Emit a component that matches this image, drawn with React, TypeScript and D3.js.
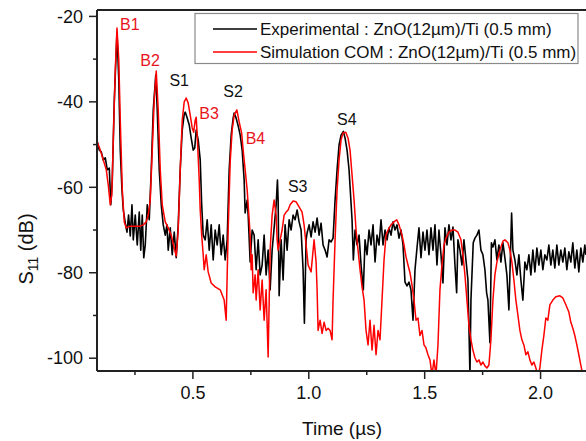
import React from "react";
import * as d3 from "d3";

// Experimental S11 (black)
const expTime = [0.0875,0.0961,0.1047,0.1134,0.1220,0.1306,0.1392,0.1457,0.1522,0.1608,0.1724,0.1802,0.1866,0.1940,0.1996,0.2082,0.2155,0.2224,0.2297,0.2371,0.2427,0.2513,0.2599,0.2685,0.2750,0.2815,0.2879,0.2944,0.3030,0.3116,0.3203,0.3289,0.3397,0.3461,0.3547,0.3634,0.3720,0.3806,0.3879,0.3935,0.4022,0.4108,0.4194,0.4280,0.4366,0.4453,0.4539,0.4625,0.4668,0.4754,0.4841,0.4927,0.5013,0.5078,0.5142,0.5228,0.5315,0.5379,0.5444,0.5530,0.5616,0.5703,0.5789,0.5875,0.5961,0.6047,0.6134,0.6220,0.6306,0.6392,0.6478,0.6565,0.6651,0.6737,0.6780,0.6866,0.6966,0.7040,0.7125,0.7211,0.7254,0.7341,0.7384,0.7470,0.7556,0.7642,0.7728,0.7815,0.7901,0.7987,0.8073,0.8159,0.8246,0.8332,0.8418,0.8504,0.8591,0.8647,0.8677,0.8720,0.8806,0.8892,0.8978,0.9065,0.9151,0.9237,0.9323,0.9409,0.9496,0.9582,0.9668,0.9754,0.9810,0.9884,0.9927,1.0013,1.0099,1.0185,1.0272,1.0358,1.0444,1.0530,1.0616,1.0703,1.0789,1.0875,1.0961,1.1047,1.1134,1.1220,1.1306,1.1392,1.1491,1.1565,1.1651,1.1737,1.1802,1.1866,1.1922,1.1996,1.2082,1.2168,1.2254,1.2353,1.2427,1.2513,1.2599,1.2685,1.2772,1.2858,1.2944,1.3030,1.3116,1.3203,1.3289,1.3375,1.3461,1.3547,1.3634,1.3720,1.3806,1.3892,1.3978,1.4065,1.4151,1.4237,1.4323,1.4409,1.4496,1.4582,1.4668,1.4754,1.4841,1.4927,1.5013,1.5099,1.5185,1.5272,1.5358,1.5444,1.5530,1.5616,1.5703,1.5789,1.5875,1.5961,1.6047,1.6134,1.6220,1.6306,1.6379,1.6435,1.6522,1.6608,1.6694,1.6780,1.6866,1.6953,1.6996,1.7095,1.7168,1.7254,1.7341,1.7427,1.7513,1.7599,1.7672,1.7728,1.7815,1.7879,1.7944,1.8030,1.8116,1.8203,1.8289,1.8375,1.8461,1.8547,1.8634,1.8750,1.8806,1.8892,1.8978,1.9065,1.9151,1.9237,1.9323,1.9409,1.9496,1.9582,1.9668,1.9754,1.9841,1.9927,2.0013,2.0099,2.0185,2.0272,2.0358,2.0444,2.0530,2.0616,2.0703,2.0789,2.0875,2.0961,2.1047,2.1134,2.1220,2.1306,2.1392,2.1478,2.1565,2.1651,2.1737,2.1823,2.1909,2.1953];
const expS11 = [-49.4,-51.3,-51.7,-53.6,-53.1,-55.9,-55.5,-64.1,-58.3,-39.6,-23.7,-34.9,-51.3,-60.6,-65.3,-68.4,-70.5,-66.5,-71.4,-64.1,-72.3,-66.5,-73.5,-65.8,-74.7,-66.5,-76.5,-73.5,-64.1,-67.6,-55.9,-41.9,-33.7,-41.9,-55.9,-64.1,-68.8,-71.2,-68.8,-74.7,-69.5,-75.8,-70.5,-76.5,-68.8,-55.9,-46.6,-42.9,-42.4,-43.8,-45.4,-48.5,-51.3,-50.8,-46.6,-48.9,-53.6,-64.1,-71.2,-72.3,-67.6,-74.7,-68.8,-77.0,-70.0,-73.5,-68.8,-75.8,-71.2,-77.0,-72.3,-55.9,-47.8,-43.8,-42.6,-43.8,-45.9,-47.8,-51.3,-58.3,-66.0,-63.0,-66.5,-77.5,-70.0,-71.2,-79.3,-72.3,-80.5,-78.2,-71.2,-80.5,-74.7,-84.0,-74.7,-69.5,-64.1,-58.3,-63.0,-85.4,-72.3,-81.7,-68.8,-74.7,-67.6,-70.0,-66.5,-67.6,-65.3,-68.1,-70.0,-79.3,-91.8,-72.3,-70.7,-68.8,-71.6,-68.1,-70.5,-67.2,-71.2,-68.4,-73.5,-74.7,-76.3,-72.3,-72.8,-71.9,-63.0,-55.9,-50.1,-47.8,-46.9,-48.5,-51.3,-55.9,-61.8,-67.6,-77.0,-70.0,-73.5,-71.2,-78.2,-84.0,-72.3,-75.8,-70.0,-73.5,-68.8,-77.5,-71.2,-73.5,-67.6,-73.5,-70.0,-72.3,-69.5,-71.2,-68.1,-70.0,-68.8,-71.9,-70.0,-73.5,-82.2,-83.1,-82.2,-84.0,-91.1,-79.3,-74.2,-69.5,-76.5,-70.5,-74.7,-70.0,-75.8,-69.5,-74.7,-68.8,-78.2,-70.0,-75.8,-82.4,-69.5,-73.5,-68.8,-72.3,-69.3,-78.2,-84.7,-72.3,-74.7,-78.2,-72.3,-77.0,-81.7,-104,-86.4,-73.0,-71.9,-71.2,-70.0,-74.7,-75.8,-79.3,-84.7,-86.4,-96.4,-73.0,-74.0,-72.3,-77.0,-73.5,-77.5,-73.0,-76.5,-80.5,-88.7,-66.0,-74.7,-77.0,-80.5,-75.8,-81.7,-86.4,-77.5,-79.3,-75.8,-80.5,-74.7,-79.8,-74.2,-78.2,-74.7,-79.3,-75.8,-77.0,-73.5,-78.2,-74.7,-78.9,-73.5,-78.2,-74.7,-77.5,-74.2,-79.3,-75.1,-77.5,-73.0,-78.9,-74.7,-79.8,-74.2,-77.5,-73.5,-75.8];

// Simulation COM S11 (red)
const simTime = [0.0875,0.1004,0.1134,0.1263,0.1349,0.1435,0.1500,0.1565,0.1651,0.1724,0.1802,0.1866,0.1953,0.2039,0.2125,0.2297,0.2513,0.2728,0.2858,0.2987,0.3073,0.3159,0.3246,0.3332,0.3418,0.3504,0.3591,0.3677,0.3806,0.3935,0.4065,0.4194,0.4280,0.4366,0.4453,0.4539,0.4625,0.4711,0.4797,0.4884,0.4970,0.5034,0.5099,0.5142,0.5185,0.5272,0.5315,0.5379,0.5444,0.5487,0.5573,0.5659,0.5789,0.5961,0.6177,0.6349,0.6435,0.6522,0.6608,0.6694,0.6780,0.6897,0.6996,0.7103,0.7168,0.7254,0.7341,0.7427,0.7470,0.7513,0.7556,0.7599,0.7685,0.7728,0.7815,0.7901,0.7987,0.8073,0.8159,0.8246,0.8332,0.8418,0.8504,0.8591,0.8634,0.8677,0.8763,0.8849,0.8935,0.9022,0.9108,0.9194,0.9323,0.9453,0.9582,0.9711,0.9797,0.9884,0.9970,1.0099,1.0228,1.0315,1.0358,1.0401,1.0487,1.0573,1.0659,1.0746,1.0832,1.0918,1.1004,1.1047,1.1134,1.1220,1.1306,1.1392,1.1478,1.1595,1.1694,1.1780,1.1866,1.1953,1.2039,1.2125,1.2211,1.2297,1.2384,1.2470,1.2556,1.2642,1.2728,1.2815,1.2901,1.2987,1.3073,1.3159,1.3246,1.3332,1.3418,1.3547,1.3677,1.3793,1.3892,1.4022,1.4108,1.4194,1.4280,1.4366,1.4453,1.4539,1.4625,1.4711,1.4797,1.4884,1.4970,1.5056,1.5142,1.5228,1.5315,1.5401,1.5487,1.5573,1.5659,1.5746,1.5832,1.5918,1.6047,1.6177,1.6306,1.6435,1.6565,1.6651,1.6737,1.6823,1.6909,1.6996,1.7082,1.7168,1.7254,1.7341,1.7427,1.7513,1.7599,1.7685,1.7772,1.7858,1.7944,1.8030,1.8116,1.8246,1.8375,1.8461,1.8591,1.8677,1.8763,1.8849,1.8935,1.9022,1.9108,1.9194,1.9280,1.9366,1.9453,1.9539,1.9625,1.9711,1.9797,1.9884,1.9970,2.0056,2.0142,2.0228,2.0315,2.0401,2.0530,2.0659,2.0832,2.0961,2.1091,2.1220,2.1306,2.1392,2.1478,2.1565,2.1651,2.1737,2.1823,2.1953];
const simS11 = [-49.4,-51.3,-53.6,-55.9,-59.5,-64.1,-61.8,-48.9,-32.6,-22.7,-30.2,-44.3,-60.6,-68.1,-69.5,-69.1,-69.1,-69.1,-68.8,-68.1,-66.5,-63.0,-51.3,-39.6,-32.8,-41.9,-55.9,-64.1,-68.1,-69.5,-71.2,-74.2,-76.1,-70.0,-55.9,-44.3,-40.0,-39.1,-40.3,-43.1,-46.1,-47.1,-44.3,-43.6,-47.8,-58.3,-65.3,-71.2,-75.8,-79.3,-75.8,-79.8,-82.4,-83.3,-84.0,-86.4,-91.1,-70.0,-54.1,-46.6,-43.1,-41.9,-44.7,-47.3,-51.3,-55.9,-60.6,-67.6,-71.2,-79.3,-75.8,-84.7,-80.5,-86.4,-79.3,-88.7,-81.7,-91.1,-84.0,-99.7,-74.7,-66.5,-63.0,-66.5,-72.3,-74.7,-72.3,-70.0,-66.5,-65.8,-65.3,-64.1,-63.2,-63.4,-64.6,-65.8,-68.8,-73.5,-78.2,-79.8,-72.3,-77.5,-84.0,-93.5,-91.1,-94.2,-91.6,-93.5,-93.0,-93.5,-95.7,-86.4,-72.3,-60.6,-53.6,-48.9,-47.3,-47.1,-48.5,-51.3,-57.1,-63.0,-70.0,-74.7,-79.3,-83.3,-86.4,-93.5,-96.9,-91.1,-98.1,-92.3,-99.2,-93.5,-95.7,-86.4,-77.0,-71.2,-70.0,-68.8,-68.1,-67.6,-68.8,-71.2,-73.5,-76.3,-78.2,-80.0,-82.9,-86.4,-91.1,-90.6,-94.7,-93.5,-96.9,-97.6,-99.2,-100.4,-104,-100.4,-104,-96.9,-84.0,-78.2,-73.5,-71.9,-70.5,-70.0,-70.0,-70.5,-72.3,-75.8,-80.5,-86.4,-92.3,-95.7,-98.1,-99.9,-100.9,-100.4,-101.6,-100.9,-101.8,-102.3,-101.6,-95.7,-86.4,-80.5,-77.5,-74.7,-72.6,-72.3,-73.0,-74.7,-77.5,-81.7,-86.4,-89.9,-93.5,-95.7,-96.9,-99.2,-98.5,-100.4,-101.6,-100.9,-102.3,-104,-102.3,-98.1,-94.7,-90.6,-91.1,-87.5,-86.4,-85.6,-85.4,-85.9,-87.5,-89.2,-91.6,-93.0,-94.7,-96.9,-99.2,-101.6,-104,-104];

const yMajorTicks = [-20, -40, -60, -80, -100];
const yMinorTicks = [-30, -50, -70, -90];
const xMajorTicks = [0.5, 1.0, 1.5, 2.0];
const xMinorTicks = [0.25, 0.75, 1.25, 1.75];

const seriesNames = [
  "Experimental : ZnO(12\u00b5m)/Ti (0.5 mm)",
  "Simulation COM : ZnO(12\u00b5m)/Ti (0.5 mm)",
];
const seriesColors = ["#000000", "#ff0000"];
const labelColors = ["#111111", "#e8141c"];

const peakLabels = ["B1", "B2", "S1", "B3", "S2", "B4", "S3", "S4"];
const peakLabelTime = [0.228, 0.315, 0.441, 0.570, 0.673, 0.770, 0.952, 1.164];
const peakLabelDb = [-21.8, -30.2, -34.9, -42.6, -37.6, -48.5, -59.9, -44.0];
const peakLabelSeries = [1, 1, 0, 1, 0, 1, 0, 0];

const W = 586;
const H = 441;
const left = 97;
const right = 586;
const top = 10;
const bottom = 371;
const FONT = "Arial, 'Liberation Sans', Helvetica, sans-serif";

export default function App() {
  const x = d3.scaleLinear().domain([0.0862, 2.196]).range([left, right]);
  const y = d3.scaleLinear().domain([-103, -18.5]).range([bottom, top]);

  const mk = (ts: number[], vs: number[]) =>
    d3
      .line<number>()
      .x((i) => x(ts[i]))
      .y((i) => y(vs[i]))(ts.map((_, i) => i)) || "";

  const expPath = mk(expTime, expS11);
  const simPath = mk(simTime, simS11);

  return (
    <svg
      width={W}
      height={H}
      style={{ position: "absolute", left: 0, top: 0, background: "#fff" }}
      fontFamily={FONT}
    >
      <defs>
        <clipPath id="plotClip">
          <rect x={left} y={top} width={right - left} height={bottom - top} />
        </clipPath>
      </defs>
      <rect x={0} y={0} width={W} height={H} fill="#fff" />

      <g clipPath="url(#plotClip)">
        <path d={expPath} fill="none" stroke={seriesColors[0]} strokeWidth={1.6} strokeLinejoin="round" />
        <path d={simPath} fill="none" stroke={seriesColors[1]} strokeWidth={1.5} strokeLinejoin="round" />
      </g>

      {/* axes frame */}
      <line x1={left} x2={right} y1={top} y2={top} stroke="#222" strokeWidth={2} />
      <line x1={left} x2={right} y1={bottom} y2={bottom} stroke="#222" strokeWidth={2} />
      <line x1={left} x2={left} y1={top} y2={bottom} stroke="#222" strokeWidth={2} />

      {/* y ticks */}
      {yMajorTicks.map((v) => (
        <g key={"ym" + v}>
          <line x1={left - 8} x2={left} y1={y(v)} y2={y(v)} stroke="#222" strokeWidth={1.5} />
          <text x={left - 14} y={y(v)} dy="0.35em" textAnchor="end" fontSize={18} fill="#111">
            {v}
          </text>
        </g>
      ))}
      {yMinorTicks.map((v) => (
        <line key={"yn" + v} x1={left - 4} x2={left} y1={y(v)} y2={y(v)} stroke="#222" strokeWidth={1.5} />
      ))}

      {/* x ticks */}
      {xMajorTicks.map((v) => (
        <g key={"xm" + v}>
          <line x1={x(v)} x2={x(v)} y1={bottom} y2={bottom + 8} stroke="#222" strokeWidth={1.5} />
          <text x={x(v)} y={399} textAnchor="middle" fontSize={18} fill="#111">
            {v.toFixed(1)}
          </text>
        </g>
      ))}
      {xMinorTicks.map((v) => (
        <line key={"xn" + v} x1={x(v)} x2={x(v)} y1={bottom} y2={bottom + 4} stroke="#222" strokeWidth={1.5} />
      ))}

      {/* axis titles */}
      <text x={342} y={435} textAnchor="middle" fontSize={19} fill="#111">
        Time ({"\u00b5"}s)
      </text>
      <text
        transform={`translate(33, 249) rotate(-90)`}
        textAnchor="middle"
        fontSize={20}
        fill="#111"
      >
        S<tspan fontSize={14} dy={5}>11</tspan>
        <tspan dy={-5}> (dB)</tspan>
      </text>

      {/* peak labels */}
      {peakLabels.map((lab, i) => (
        <text
          key={lab}
          x={x(peakLabelTime[i])}
          y={y(peakLabelDb[i])}
          dy="0.35em"
          textAnchor="middle"
          fontSize={16}
          fill={labelColors[peakLabelSeries[i]]}
        >
          {lab}
        </text>
      ))}

      {/* legend */}
      <rect x={195} y={13.5} width={383} height={50} fill="#fff" stroke="#8a8a8a" strokeWidth={1.2} />
      {seriesNames.map((name, i) => (
        <g key={name}>
          <line x1={213} x2={257} y1={29 + i * 23} y2={29 + i * 23} stroke={seriesColors[i]} strokeWidth={1.6} />
          <text x={260} y={29 + i * 23} dy="0.35em" fontSize={17} fill="#111">
            {name}
          </text>
        </g>
      ))}
    </svg>
  );
}
